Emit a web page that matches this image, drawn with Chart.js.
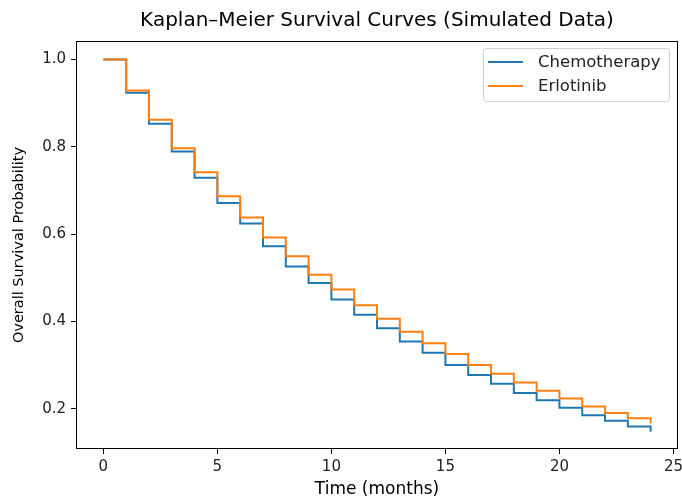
<!DOCTYPE html>
<html>
<head>
<meta charset="utf-8">
<script src="https://cdn.jsdelivr.net/npm/chart.js@4.4.0/dist/chart.umd.min.js"></script>
<style>
  html, body { margin: 0; padding: 0; background: #fff; }
  #wrap { width: 682px; height: 497px; }
</style>
</head>
<body>
<div id="wrap"><canvas id="chart" width="682" height="497"></canvas></div>
<script>
/* Data */
var months = [0,1,2,3,4,5,6,7,8,9,10,11,12,13,14,15,16,17,18,19,20,21,22,23,24];
var chemo = [1.0, 0.924, 0.853, 0.789, 0.729, 0.671, 0.624, 0.572, 0.526, 0.488, 0.450, 0.415, 0.384,
             0.354, 0.328, 0.300, 0.277, 0.257, 0.236, 0.219, 0.202, 0.185, 0.172, 0.159, 0.147];
var erlotinib = [1.0, 0.929, 0.862, 0.797, 0.742, 0.687, 0.638, 0.592, 0.549, 0.507, 0.473, 0.437, 0.406,
                 0.376, 0.350, 0.325, 0.300, 0.280, 0.260, 0.241, 0.223, 0.205, 0.190, 0.178, 0.166];
var xTicks = [0, 5, 10, 15, 20, 25];
var yTicks = [0.2, 0.4, 0.6, 0.8, 1.0];
var seriesNames = ["Chemotherapy", "Erlotinib"];
var seriesColors = ["#1f77b4", "#ff7f0e"];
var titleText = "Kaplan\u2013Meier Survival Curves (Simulated Data)";

var FONT = "'DejaVu Sans', sans-serif";

function pts(ys){
  return months.map(function(m, i){ return {x: m, y: ys[i]}; });
}

// -------- frame, title, legend --------
var extras = {
  id: 'extras',
  afterDraw: function(chart){
    var ctx = chart.ctx, a = chart.chartArea;
    ctx.save();
    ctx.strokeStyle = "#000";
    ctx.lineWidth = 1;
    ctx.strokeRect(Math.round(a.left) + 0.5, Math.round(a.top) + 0.5,
                   Math.round(a.right - a.left) - 1, Math.round(a.bottom - a.top) - 1);

    // title centred over the axes
    ctx.fillStyle = "#000";
    ctx.font = "20px " + FONT;
    ctx.textAlign = "center";
    ctx.textBaseline = "middle";
    ctx.fillText(titleText, (a.left + a.right) / 2, 21);

    // legend box (upper right)
    var bx = 483.5, by = 48.5, bw = 186, bh = 53;
    ctx.fillStyle = "rgba(255,255,255,0.8)";
    ctx.strokeStyle = "#d0d0d0";
    ctx.beginPath();
    ctx.roundRect(bx, by, bw, bh, 3);
    ctx.fill();
    ctx.stroke();
    ctx.font = "16.5px " + FONT;
    ctx.textAlign = "left";
    for (var i = 0; i < seriesNames.length; i++){
      var ly = 62 + i * 24;
      ctx.strokeStyle = seriesColors[i];
      ctx.lineWidth = 2;
      ctx.beginPath();
      ctx.moveTo(488, ly);
      ctx.lineTo(523, ly);
      ctx.stroke();
      ctx.fillStyle = "#222";
      ctx.fillText(seriesNames[i], 538, ly + 1);
    }
    ctx.restore();
  }
};

var ctx = document.getElementById('chart').getContext('2d');
var chart = new Chart(ctx, {
  type: 'line',
  data: {
    datasets: [{
      label: seriesNames[0],
      data: pts(chemo),
      borderColor: seriesColors[0],
      borderWidth: 2,
      stepped: 'before',
      pointRadius: 0,
      fill: false,
      order: 2
    }, {
      label: seriesNames[1],
      data: pts(erlotinib),
      borderColor: seriesColors[1],
      borderWidth: 2,
      stepped: 'before',
      pointRadius: 0,
      fill: false,
      order: 1
    }]
  },
  options: {
    responsive: false,
    animation: false,
    layout: { padding: { left: 0, right: 4, top: 41, bottom: 0 } },
    plugins: {
      legend: { display: false },
      tooltip: { enabled: false },
      title: { display: false }
    },
    scales: {
      x: {
        type: 'linear',
        min: -1.2,
        max: 25.2,
        afterBuildTicks: function(s){ s.ticks = xTicks.map(function(v){ return {value: v}; }); },
        afterFit: function(s){ s.height = 48; s.paddingLeft = 0; s.paddingRight = 0; },
        grid: { display: true, drawOnChartArea: false, drawTicks: true, tickLength: 5, color: "#000" },
        border: { display: false },
        ticks: { color: "#222", font: { family: FONT, size: 15 }, padding: 4, maxRotation: 0 },
        title: { display: true, text: "Time (months)", color: "#000",
          font: { family: FONT, size: 17, lineHeight: 0.9 }, padding: { top: 0, bottom: 0 } }
      },
      y: {
        type: 'linear',
        min: 0.1075,
        max: 1.0425,
        afterBuildTicks: function(s){ s.ticks = yTicks.map(function(v){ return {value: v}; }); },
        afterFit: function(s){ s.width = 76; s.paddingTop = 0; s.paddingBottom = 0; },
        grid: { display: true, drawOnChartArea: false, drawTicks: true, tickLength: 5, color: "#000" },
        border: { display: false },
        ticks: { color: "#222", font: { family: FONT, size: 15 }, padding: 5,
          callback: function(v){ return Number(v).toFixed(1); } },
        title: { display: true, text: "Overall Survival Probability", color: "#000",
          font: { family: FONT, size: 14.5 }, padding: { top: 11, bottom: 0 } }
      }
    }
  },
  plugins: [extras]
});
</script>
</body>
</html>
